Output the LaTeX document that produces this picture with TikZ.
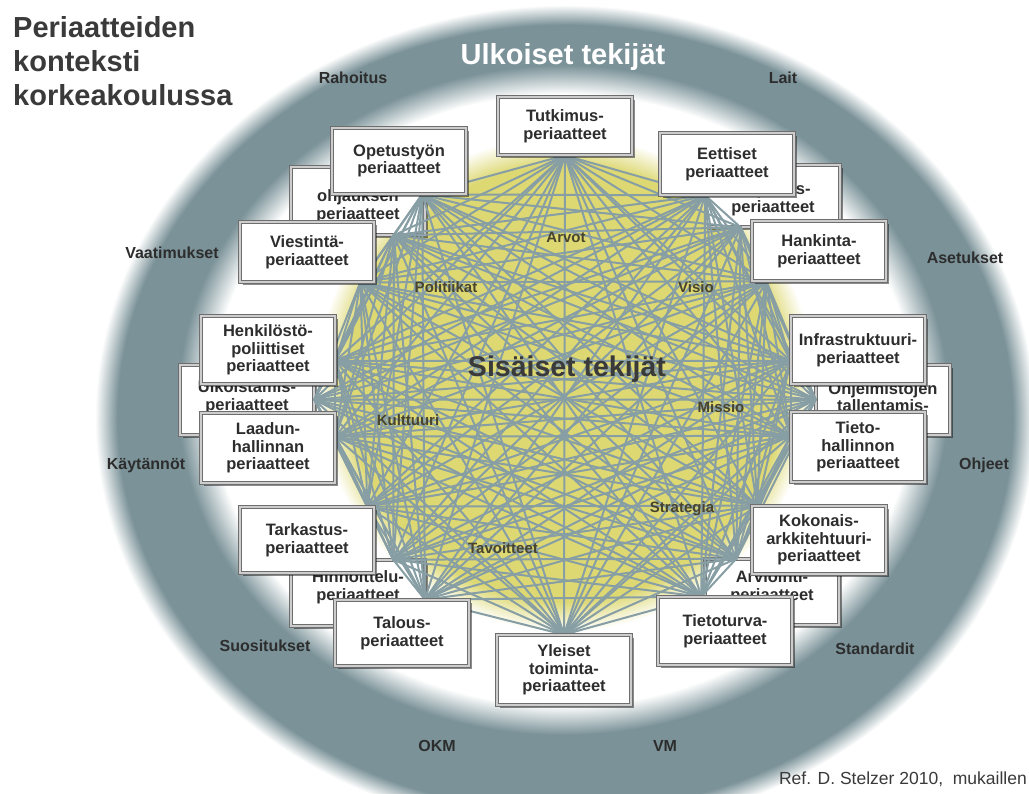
\documentclass[tikz,border=0pt]{standalone}
\usepackage{fontspec}
\setmainfont{Liberation Sans}
\usetikzlibrary{shadows}

\definecolor{ugray}{RGB}{122,146,152}
\definecolor{glowyellow}{RGB}{221,216,114}
\definecolor{linkcol}{RGB}{134,158,164}
\definecolor{boxedge}{RGB}{110,110,110}
\definecolor{boxbevel}{RGB}{205,205,205}
\definecolor{txtdark}{RGB}{45,45,45}
\definecolor{innertxt}{RGB}{72,68,45}
\definecolor{titlecol}{RGB}{58,58,58}

% soft-edged rings: grey outer field, white halo, yellow core
% (a shaded path spans the central 50bp of the shading, so its rim is at 25bp)
\pgfdeclareradialshading{outerring}{\pgfpoint{0bp}{0bp}}{color(0bp)=(ugray); color(23.8bp)=(ugray); color(25bp)=(white); color(50bp)=(white)}
\pgfdeclareradialshading{whiteglow}{\pgfpoint{0bp}{0bp}}{color(0bp)=(white); color(22.8bp)=(white); color(25bp)=(ugray); color(50bp)=(ugray)}
\pgfdeclareradialshading{yellowglow}{\pgfpoint{0bp}{0bp}}{color(0bp)=(glowyellow); color(22bp)=(glowyellow); color(25bp)=(white); color(50bp)=(white)}

\pgfdeclarelayer{bg}
\pgfdeclarelayer{hid}
\pgfdeclarelayer{lnk}
\pgfsetlayers{bg,hid,lnk,main}

\tikzset{
  ptext/.style={align=center, text=txtdark, inner sep=0pt,
    font=\bfseries\fontsize{16.5}{17.5}\selectfont},
  pbox/.style={ptext, rectangle, fill=white, draw=boxedge, line width=0.7pt,
    double=boxbevel, double distance=2.4pt,
    minimum width=134pt, minimum height=#1,
    drop shadow={shadow xshift=3pt, shadow yshift=-3pt, fill=black, opacity=0.45}},
  extlbl/.style={font=\bfseries\fontsize{16}{18}\selectfont, text=txtdark, anchor=base, inner sep=0pt},
  intlbl/.style={font=\bfseries\fontsize{15}{17}\selectfont, text=innertxt, anchor=base, inner sep=0pt},
  link/.style={draw=linkcol, line width=2pt, line cap=round}
}

\begin{document}
\begin{tikzpicture}[x=1pt, y=-1pt]
\useasboundingbox (0,0) rectangle (1029,794);

\begin{pgfonlayer}{bg}
  \fill[white] (0,0) rectangle (1029,794);
  \path[shading=outerring] (565,418) ellipse [x radius=470pt, y radius=413pt];
  \path[shading=whiteglow] (563,400) ellipse [x radius=385pt, y radius=335pt];
  \path[shading=yellowglow] (565,383) circle [radius=248pt];
\end{pgfonlayer}

% principle boxes in the front row
\node[pbox=58pt] (b1)  at (565,126) {Tutkimus-\\periaatteet};
\node[pbox=62pt] (b2)  at (727,164) {Eettiset\\periaatteet};
\node[pbox=60pt] (b3)  at (819,251) {Hankinta-\\periaatteet};
\node[pbox=68pt] (b4)  at (858,350) {Infrastruktuuri-\\periaatteet};
\node[pbox=70pt] (b5)  at (858,447) {Tieto-\\hallinnon\\periaatteet};
\node[pbox=68pt] (b6)  at (819,540) {Kokonais-\\arkkitehtuuri-\\periaatteet};
\node[pbox=68pt] (b7)  at (725,631) {Tietoturva-\\periaatteet};
\node[pbox=70pt] (b8)  at (564,670) {Yleiset\\toiminta-\\periaatteet};
\node[pbox=66pt] (b9)  at (402,633) {Talous-\\periaatteet};
\node[pbox=66pt] (b10) at (307,540) {Tarkastus-\\periaatteet};
\node[pbox=70pt] (b11) at (268,448) {Laadun-\\hallinnan\\periaatteet};
\node[pbox=68pt] (b12) at (268,350) {Henkilöstö-\\poliittiset\\periaatteet};
\node[pbox=60pt] (b13) at (307,252) {Viestintä-\\periaatteet};
\node[pbox=66pt] (b14) at (399,161) {Opetustyön\\periaatteet};

% principle boxes in the back row
\begin{pgfonlayer}{hid}
\node[pbox=68pt] (b15) at (358,201) {};
\node[ptext]     (t15) at (358,206) {ohjauksen\\periaatteet};
\node[pbox=62pt] (b16) at (773,196) {};
\node[ptext]     (t16) at (773,199) {Sopimus-\\periaatteet};
\node[pbox=70pt] (b17) at (247,400) {};
\node[ptext]     (t17) at (247,397) {Ulkoistamis-\\periaatteet};
\node[pbox=70pt] (b18) at (883,400) {};
\node[ptext]     (t18) at (883,397) {Ohjelmistojen\\tallentamis-};
\node[pbox=66pt] (b19) at (358,593) {};
\node[ptext]     (t19) at (358,587) {Hinnoittelu-\\periaatteet};
\node[pbox=66pt] (b20) at (772,592) {};
\node[ptext]     (t20) at (772,587) {Arviointi-\\periaatteet};
\end{pgfonlayer}

% each box meets the web on its side facing the centre
\coordinate (O) at (564,398);
\foreach \i in {1,...,20} \path (O) -- coordinate[pos=1] (p\i) (b\i);

\begin{pgfonlayer}{lnk}
\foreach \i in {1,...,19}{
  \pgfmathtruncatemacro{\jfirst}{\i+1}
  \foreach \j in {\jfirst,...,20}{ \draw[link] (p\i) -- (p\j); }
}
\end{pgfonlayer}

% headings
\node[anchor=north west, align=left, inner sep=0pt, text=titlecol,
      font=\bfseries\fontsize{29}{34}\selectfont] (title) at (13,16)
      {Periaatteiden\\konteksti\\korkeakoulussa};
\node[anchor=base, inner sep=0pt, text=white, font=\bfseries\fontsize{29}{32}\selectfont] (ext) at (563,65) {Ulkoiset tekijät};
\node[anchor=base, inner sep=0pt, text=titlecol, font=\bfseries\fontsize{28.5}{32}\selectfont] (int) at (567,377) {Sisäiset tekijät};

% external factors
\node[extlbl] (e1)  at (353,84)  {Rahoitus};
\node[extlbl] (e2)  at (783,84)  {Lait};
\node[extlbl] (e3)  at (172,259) {Vaatimukset};
\node[extlbl] (e4)  at (965,264) {Asetukset};
\node[extlbl] (e5)  at (146,469) {Käytännöt};
\node[extlbl] (e6)  at (984,469) {Ohjeet};
\node[extlbl] (e7)  at (265,651) {Suositukset};
\node[extlbl] (e8)  at (875,654) {Standardit};
\node[extlbl] (e9)  at (437,751) {OKM};
\node[extlbl] (e10) at (665,751) {VM};

% internal factors
\node[intlbl] (i1) at (566,243) {Arvot};
\node[intlbl] (i2) at (446,293) {Politiikat};
\node[intlbl] (i3) at (696,293) {Visio};
\node[intlbl] (i4) at (408,425) {Kulttuuri};
\node[intlbl] (i5) at (721,413) {Missio};
\node[intlbl] (i6) at (682,512) {Strategia};
\node[intlbl] (i7) at (503,553) {Tavoitteet};

% source
\node[anchor=base east, inner sep=0pt, text=titlecol, font=\fontsize{17.5}{20}\selectfont] (ref) at (1027,784) {Ref. D. Stelzer 2010,\ \ mukaillen};
\end{tikzpicture}
\end{document}
